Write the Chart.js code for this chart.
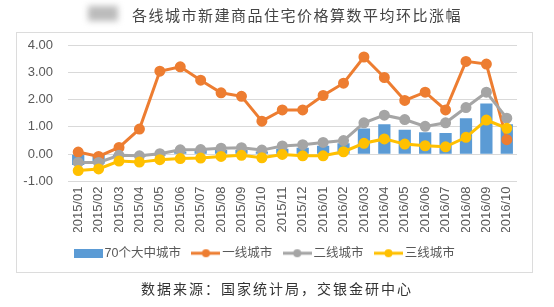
<!DOCTYPE html>
<html>
<head>
<meta charset="utf-8">
<script src="https://cdn.jsdelivr.net/npm/chart.js@4"></script>
<style>
  html, body { margin: 0; padding: 0; background: #fff; }
  #wrap { position: relative; width: 554px; height: 307px; overflow: hidden; }
  #chart { position: absolute; left: 0; top: 0; }
  .box { position: absolute; left: 16px; top: 32px; width: 515px; height: 239px; border: 1px solid #dcdcdc; pointer-events: none; }
  .title { position: absolute; left: 0; width: 554px; top: 4px; text-align: center; padding-left: 40px; box-sizing: border-box;
           font: 15px "Noto Sans CJK SC", sans-serif; letter-spacing: 1.5px; color: #444; }
  .blob { position: absolute; left: 88px; top: 6px; width: 30px; height: 15px; background: #bbb; filter: blur(3px); }
  .source { position: absolute; left: 0; width: 554px; top: 278px; text-align: center; padding-left: 0px; box-sizing: border-box;
            font: 14px "Noto Sans CJK SC", sans-serif; letter-spacing: 2px; color: #333; }
</style>
</head>
<body>
<div id="wrap">
  <canvas id="chart" width="554" height="307"></canvas>
  <div class="box"></div>
  <div class="blob"></div>
  <div class="title">各线城市新建商品住宅价格算数平均环比涨幅</div>
  <div class="source">数据来源：国家统计局，交银金研中心</div>
</div>
<script>
var months = ['2015/01', '2015/02', '2015/03', '2015/04', '2015/05', '2015/06', '2015/07', '2015/08',
              '2015/09', '2015/10', '2015/11', '2015/12', '2016/01', '2016/02', '2016/03', '2016/04',
              '2016/05', '2016/06', '2016/07', '2016/08', '2016/09', '2016/10'];
var city70 = [-0.4, -0.35, -0.1, -0.1, -0.05, 0.1, 0.15, 0.15, 0.15, 0.1, 0.2, 0.24, 0.31, 0.4, 0.94, 1.1, 0.9, 0.8, 0.78, 1.32, 1.86, 1.1];
var tier1 = [0.08, -0.08, 0.25, 0.92, 3.04, 3.2, 2.71, 2.25, 2.12, 1.21, 1.62, 1.62, 2.15, 2.6, 3.56, 2.81, 1.97, 2.27, 1.62, 3.4, 3.3, 0.53];
var tier2 = [-0.3, -0.3, -0.04, -0.06, 0.02, 0.16, 0.17, 0.22, 0.24, 0.15, 0.3, 0.35, 0.43, 0.5, 1.15, 1.43, 1.27, 1.02, 1.15, 1.71, 2.27, 1.32];
var tier3 = [-0.6, -0.54, -0.25, -0.29, -0.2, -0.16, -0.14, -0.08, -0.04, -0.13, -0.01, -0.06, -0.06, 0.09, 0.4, 0.56, 0.37, 0.31, 0.27, 0.62, 1.25, 0.95];
var yTicks = [-1, 0, 1, 2, 3, 4];

var BLUE = '#5b9bd5', ORANGE = '#ed7d31', GRAY = '#a5a5a5', YELLOW = '#ffc000';

// legend swatches
function barSwatch(color) {
    var c = document.createElement('canvas');
    c.width = 29; c.height = 9;
    var g = c.getContext('2d');
    g.fillStyle = color;
    g.fillRect(0, 0, 29, 9);
    return c;
}
function lineSwatch(color) {
    var c = document.createElement('canvas');
    c.width = 29; c.height = 10;
    var g = c.getContext('2d');
    g.strokeStyle = color;
    g.lineWidth = 3;
    g.beginPath(); g.moveTo(0, 5); g.lineTo(29, 5); g.stroke();
    g.fillStyle = color;
    g.beginPath(); g.arc(14.5, 5, 4, 0, Math.PI * 2); g.fill();
    return c;
}

function lineSet(label, data, color, order) {
    return {
        type: 'line',
        label: label,
        data: data,
        borderColor: color,
        backgroundColor: color,
        borderWidth: 3,
        pointRadius: 4,
        pointBackgroundColor: color,
        pointBorderColor: color,
        tension: 0,
        order: order,
        legendSwatch: lineSwatch(color)
    };
}

var ctx = document.getElementById('chart').getContext('2d');
var chart = new Chart(ctx, {
    data: {
        labels: months,
        datasets: [
            {
                type: 'bar',
                label: '70个大中城市',
                data: city70,
                backgroundColor: BLUE,
                barPercentage: 0.6,
                categoryPercentage: 1,
                order: 10,
                legendSwatch: barSwatch(BLUE)
            },
            lineSet('一线城市', tier1, ORANGE, 3),
            lineSet('二线城市', tier2, GRAY, 2),
            lineSet('三线城市', tier3, YELLOW, 1)
        ]
    },
    options: {
        responsive: false,
        animation: false,
        layout: { padding: { left: 16, right: 37, top: 45, bottom: 37.5 } },
        plugins: {
            title: { display: false },
            tooltip: { enabled: false },
            legend: {
                position: 'bottom',
                labels: {
                    usePointStyle: true,
                    pointStyleWidth: 20,
                    padding: 15,
                    color: '#595959',
                    font: { family: '"Liberation Sans", "Noto Sans CJK SC", sans-serif', size: 12.5 },
                    generateLabels: function(ch) {
                        return ch.data.datasets.map(function(ds, i) {
                            return {
                                text: ds.label,
                                pointStyle: ds.legendSwatch,
                                fillStyle: ds.backgroundColor,
                                strokeStyle: ds.backgroundColor,
                                lineWidth: 0,
                                fontColor: '#595959',
                                datasetIndex: i
                            };
                        });
                    }
                }
            }
        },
        scales: {
            x: {
                grid: { display: false, drawTicks: false },
                border: { display: false },
                ticks: {
                    autoSkip: false,
                    maxRotation: 90,
                    minRotation: 90,
                    padding: 5,
                    color: '#595959',
                    font: { family: '"Liberation Sans", sans-serif', size: 13 }
                },
                afterFit: function(scale) { scale.height = 50.5; }
            },
            y: {
                min: -1,
                max: 4,
                afterBuildTicks: function(scale) {
                    scale.ticks = yTicks.map(function(v) { return { value: v }; });
                },
                grid: { color: '#d9d9d9', lineWidth: 1, drawTicks: false },
                border: { display: false },
                ticks: {
                    padding: 15,
                    color: '#595959',
                    font: { family: '"Liberation Sans", sans-serif', size: 13 },
                    callback: function(v) { return v.toFixed(2); }
                },
                afterFit: function(scale) { scale.width = 52; }
            }
        }
    }
});
</script>
</body>
</html>
